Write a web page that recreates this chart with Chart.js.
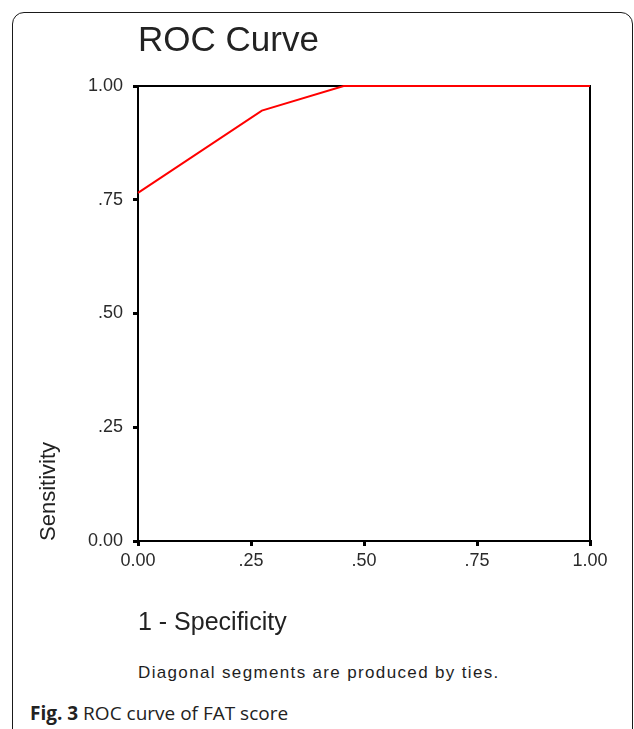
<!DOCTYPE html>
<html>
<head>
<meta charset="utf-8">
<script src="https://cdn.jsdelivr.net/npm/chart.js@4"></script>
<style>
  html, body { margin: 0; padding: 0; background: #fff; overflow: hidden; }
  body { width: 634px; height: 729px; position: relative; }
  .card {
    position: absolute; left: 12px; top: 12px; width: 621px; height: 800px;
    box-sizing: border-box; border: 1.5px solid #1a1a1a; border-radius: 12px;
  }
  #roc { position: absolute; left: 0; top: 0; }
  .note {
    position: absolute; left: 138px; top: 664px; white-space: nowrap;
    font: 17px/17px "Liberation Sans", Arial, sans-serif; letter-spacing: 1.35px; color: #1e1e1e;
  }
  .caption {
    position: absolute; left: 30px; top: 704px; white-space: nowrap;
    font: 19px/19px "Open Sans", sans-serif; color: #222;
  }
  .caption b { font-weight: 700; }
</style>
</head>
<body>
<div class="card"></div>
<canvas id="roc" width="634" height="660"></canvas>
<div class="note">Diagonal segments are produced by ties.</div>
<div class="caption"><b>Fig. 3</b> ROC curve of FAT score</div>

<script>
// ROC points
const falsePositiveRate = [0, 0.274, 0.455, 1];
const sensitivity = [0.765, 0.946, 1, 1];

const tickValues = [0, 0.25, 0.5, 0.75, 1];
const tickLabels = ['0.00', '.25', '.50', '.75', '1.00'];

const fontFamily = '"Liberation Sans", Arial, sans-serif';

function tickText(value) {
    const i = tickValues.indexOf(value);
    return i >= 0 ? tickLabels[i] : '';
}

const tickMarks = {
    display: true,
    drawOnChartArea: false,
    drawTicks: true,
    tickLength: 5,
    lineWidth: 3,
    color: '#000'
};

const frameOnly = {
    ticks: { display: false },
    grid: { display: false, drawTicks: false },
    border: { display: true, color: '#000', width: 2 }
};

new Chart(document.getElementById('roc'), {
    type: 'scatter',
    data: {
        datasets: [{
            data: falsePositiveRate.map((x, i) => ({ x: x, y: sensitivity[i] })),
            showLine: true,
            borderColor: '#ff0000',
            borderWidth: 2,
            pointRadius: 0,
            tension: 0,
            clip: false
        }]
    },
    options: {
        responsive: false,
        animation: false,
        devicePixelRatio: 1,
        layout: { padding: { left: 10, right: 0, top: 0, bottom: 19 } },
        plugins: {
            legend: { display: false },
            tooltip: { enabled: false }
        },
        scales: {
            x: {
                type: 'linear',
                position: 'bottom',
                min: 0, max: 1,
                afterBuildTicks: scale => { scale.ticks = tickValues.map(v => ({ value: v })); },
                afterFit: scale => { scale.height = 100; },
                ticks: {
                    callback: tickText,
                    font: { family: fontFamily, size: 18 },
                    color: '#2a2a2a',
                    padding: 4,
                    maxRotation: 0
                },
                grid: tickMarks,
                border: { display: true, color: '#000', width: 2 },
                title: {
                    display: true,
                    text: '1 - Specificity',
                    align: 'start',
                    font: { family: fontFamily, size: 25 },
                    color: '#222',
                    padding: { top: 0, bottom: 3 }
                }
            },
            y: {
                type: 'linear',
                position: 'left',
                min: 0, max: 1,
                afterBuildTicks: scale => { scale.ticks = tickValues.map(v => ({ value: v })); },
                afterFit: scale => { scale.width = 128; },
                ticks: {
                    callback: tickText,
                    font: { family: fontFamily, size: 18 },
                    color: '#2a2a2a',
                    padding: 10
                },
                grid: tickMarks,
                border: { display: true, color: '#000', width: 2 },
                title: {
                    display: true,
                    text: 'Sensitivity',
                    align: 'start',
                    font: { family: fontFamily, size: 22 },
                    color: '#222',
                    padding: { top: 26, bottom: 0 }
                }
            },
            x2: Object.assign({
                type: 'linear',
                position: 'top',
                min: 0, max: 1,
                afterFit: scale => { scale.height = 86; },
                title: {
                    display: true,
                    text: 'ROC Curve',
                    align: 'start',
                    font: { family: fontFamily, size: 35 },
                    color: '#222',
                    padding: { top: 20, bottom: 0 }
                }
            }, frameOnly),
            y2: Object.assign({
                type: 'linear',
                position: 'right',
                min: 0, max: 1,
                afterFit: scale => { scale.width = 44; }
            }, frameOnly)
        }
    }
});
</script>
</body>
</html>
